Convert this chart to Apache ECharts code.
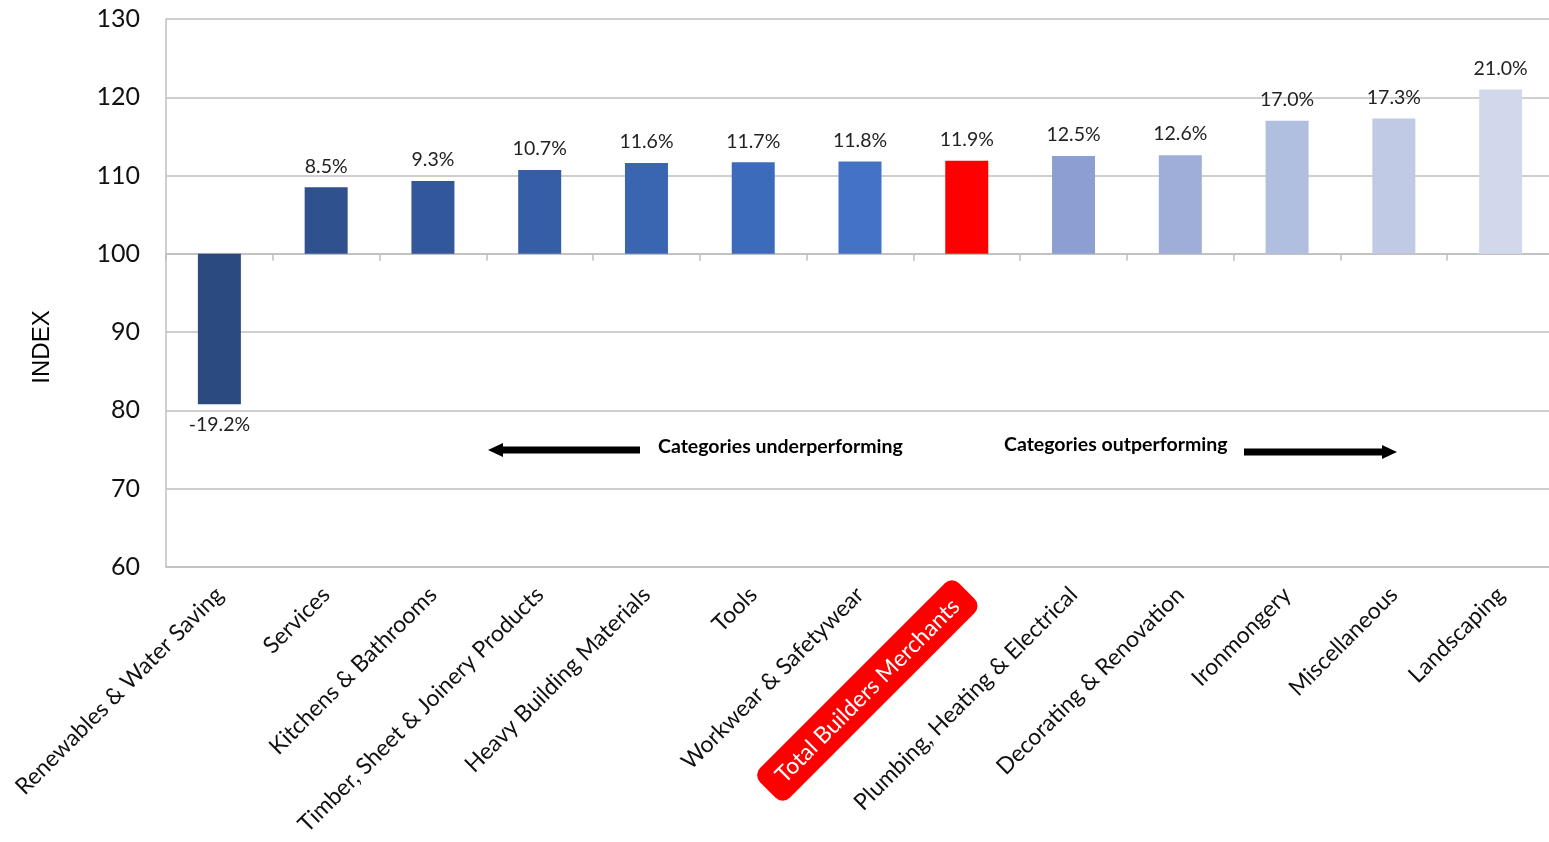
<!DOCTYPE html>
<html>
<head>
<meta charset="utf-8">
<script src="https://cdn.jsdelivr.net/npm/echarts@6/dist/echarts.min.js"></script>
<style>
html,body{margin:0;padding:0;background:#fff;}
#chart{width:1549px;height:842px;}
</style>
</head>
<body>
<div id="chart"></div>
<script>
const categories = [
  'Renewables & Water Saving', 'Services', 'Kitchens & Bathrooms',
  'Timber, Sheet & Joinery Products', 'Heavy Building Materials', 'Tools',
  'Workwear & Safetywear', 'Total Builders Merchants', 'Plumbing, Heating & Electrical',
  'Decorating & Renovation', 'Ironmongery', 'Miscellaneous', 'Landscaping'
];
const indexValues = [80.8, 108.5, 109.3, 110.7, 111.6, 111.7, 111.8, 111.9, 112.5, 112.6, 117.0, 117.3, 121.0];
const barColors = ['#2B4A80', '#2F528F', '#32579A', '#355EA6', '#3A65B1', '#3D6BBC', '#4472C4',
  '#FF0000', '#8B9FD3', '#9EAED8', '#B0BEDF', '#C0CAE5', '#D2D8EC'];
const yTicks = [60, 70, 80, 90, 100, 110, 120, 130];
const BASE = 100;
const highlight = 'Total Builders Merchants';

const chart = echarts.init(document.getElementById('chart'));
const gridColor = '#BFBFBF';
const font = 'Lato, "Open Sans", sans-serif';

chart.setOption({
  animation: false,
  grid: { left: 166, width: 1388, top: 19, bottom: 275, outerBoundsMode: 'none', containLabel: false },
  xAxis: [
    {
      type: 'category', data: categories, position: 'bottom',
      axisLine: { onZero: true, lineStyle: { color: gridColor, width: 1.5 } },
      axisTick: { show: true, interval: 0, length: 7, lineStyle: { color: gridColor, width: 1.5 } },
      axisLabel: { show: false }
    },
    {
      type: 'category', data: categories, position: 'bottom',
      axisLine: { onZero: false, show: true, lineStyle: { color: gridColor, width: 1.5 } },
      axisTick: { show: false },
      axisLabel: {
        rotate: 45, margin: 24, interval: 0,
        fontFamily: font, fontSize: 23, color: '#111',
        formatter: v => v === highlight ? '{hl|' + v + '}' : v,
        rich: {
          hl: { backgroundColor: '#FF0000', color: '#fff', borderRadius: 10, padding: [10, 16, 9, 16],
                fontFamily: font, fontSize: 23 }
        }
      }
    }
  ],
  yAxis: {
    type: 'value', min: yTicks[0] - BASE, max: yTicks[yTicks.length - 1] - BASE, interval: 10,
    name: 'INDEX', nameLocation: 'middle', nameGap: 112, nameRotate: 90,
    nameTextStyle: { fontFamily: '"Liberation Sans", Arial, sans-serif', fontSize: 24, color: '#000', padding: [0, 108, 0, 0] },
    axisLine: { show: true, lineStyle: { color: gridColor, width: 1.5 } },
    axisTick: { show: false },
    splitLine: { lineStyle: { color: gridColor, width: 1.5 } },
    axisLabel: { fontFamily: font, fontSize: 25, color: '#111', margin: 26, formatter: v => String(v + BASE) }
  },
  series: [{
    type: 'bar', xAxisIndex: 0, barWidth: 43,
    data: indexValues.map((v, i) => ({
      value: +(v - BASE).toFixed(1),
      itemStyle: { color: barColors[i] },
      label: { position: v >= BASE ? 'top' : 'bottom' }
    })),
    label: {
      show: true, distance: 11, fontFamily: font, fontSize: 19.5, color: '#222',
      formatter: p => p.value.toFixed(1) + '%'
    }
  }],
  graphic: [
    { type: 'rect', shape: { x: 500, y: 446.5, width: 140, height: 7 }, style: { fill: '#000' } },
    { type: 'polygon', shape: { points: [[488, 450], [503, 443], [503, 457]] }, style: { fill: '#000' } },
    { type: 'text', left: 658, top: 437, style: { text: 'Categories underperforming', font: 'bold 19.5px Lato, sans-serif', fill: '#000' } },
    { type: 'text', left: 1004, top: 435, style: { text: 'Categories outperforming', font: 'bold 19.5px Lato, sans-serif', fill: '#000' } },
    { type: 'rect', shape: { x: 1244, y: 448.5, width: 140, height: 7 }, style: { fill: '#000' } },
    { type: 'polygon', shape: { points: [[1397, 452], [1382, 445], [1382, 459]] }, style: { fill: '#000' } }
  ]
});
</script>
</body>
</html>
